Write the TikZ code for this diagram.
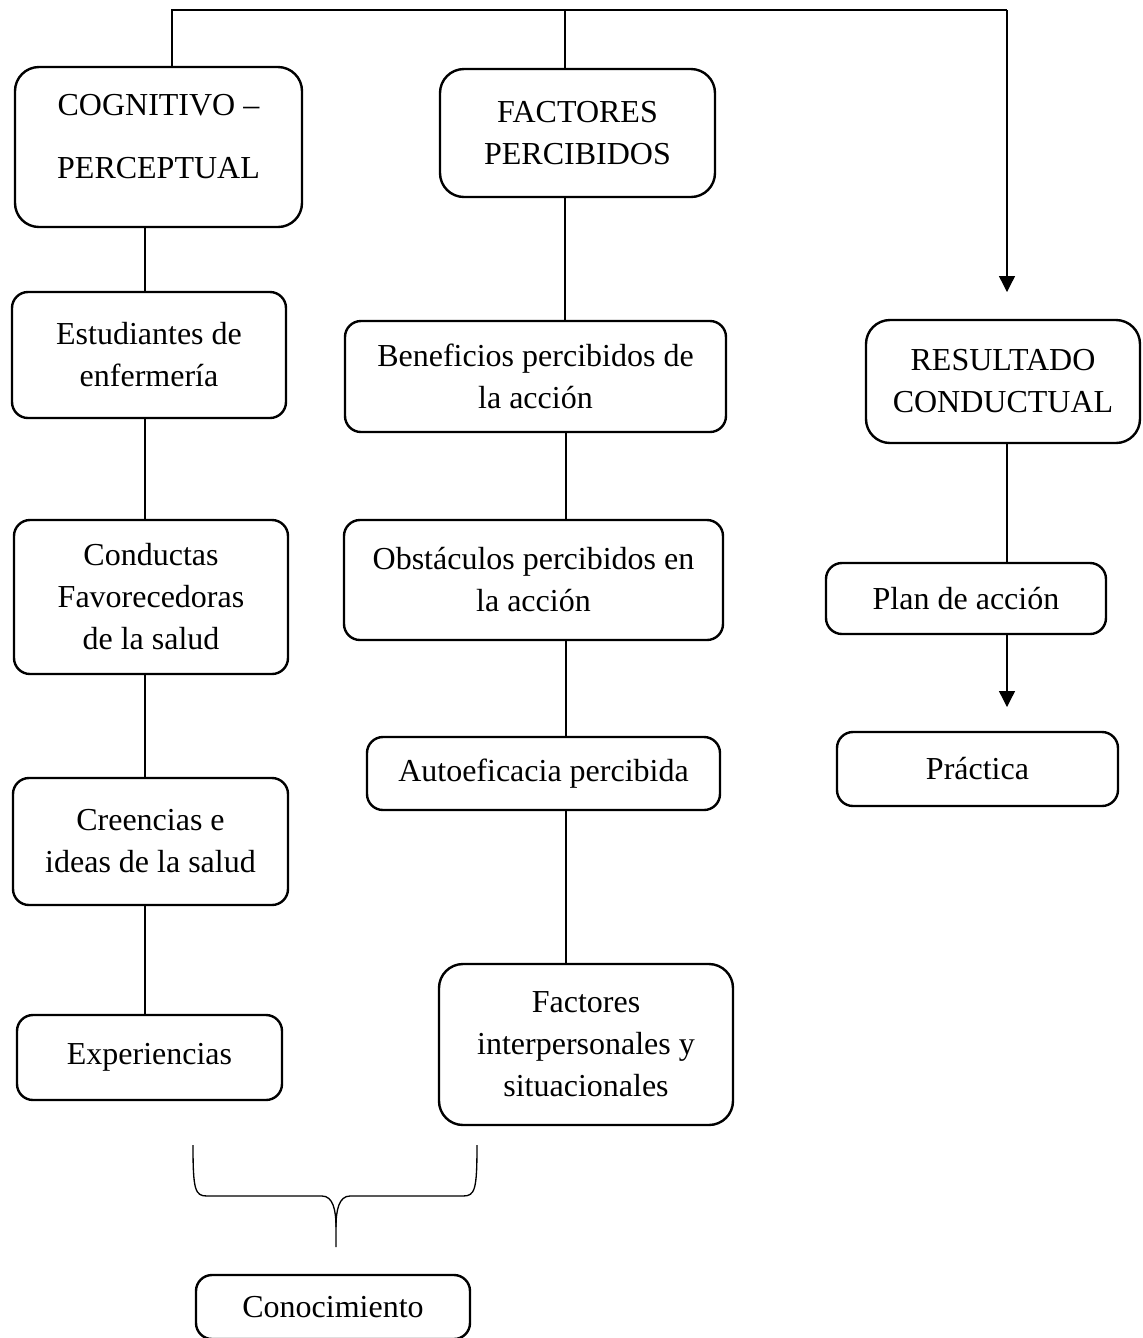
\documentclass[tikz,border=0pt]{standalone}
\usepackage{fontspec}
\setmainfont{Liberation Serif}
\usetikzlibrary{arrows.meta}

\tikzset{
	box/.style={draw, line width=0.9pt, rounded corners=6pt, inner sep=0pt, align=center,
		font=\fontsize{12pt}{15.75pt}\selectfont},
	bigbox/.style={box, rounded corners=9pt},
	wh/.style 2 args={minimum width=#1*0.375pt, minimum height=#2*0.375pt},
	conn/.style={line width=0.5pt},
	arr/.style={conn, -{Triangle[width=6pt,length=6pt]}}
}

\begin{document}
\begin{tikzpicture}[x=0.375pt, y=-0.375pt]
	\useasboundingbox (0,0) rectangle (1143,1338);

	\node[bigbox, wh={287}{160}] (cog) at (158.5,147) {COGNITIVO –\\[7.9pt]PERCEPTUAL\\[-8pt]\mbox{}};
	\node[box, wh={274}{126}] (est) at (149,355) {Estudiantes de\\enfermería};
	\node[box, wh={274}{154}] (cond) at (151,597) {Conductas\\Favorecedoras\\de la salud};
	\node[box, wh={275}{127}] (cre) at (150.5,841.5) {Creencias e\\ideas de la salud};
	\node[box, wh={265}{85}] (exp) at (149.5,1057.5) {Experiencias};

	\node[bigbox, wh={275}{128}] (fac) at (577.5,133) {FACTORES\\PERCIBIDOS};
	\node[box, wh={381}{111}] (ben) at (535.5,376.5) {Beneficios percibidos de\\la acción};
	\node[box, wh={379}{120}] (obs) at (533.5,580) {Obstáculos percibidos en\\la acción};
	\node[box, wh={353}{73}] (auto) at (543.5,773.5) {Autoeficacia percibida};
	\node[bigbox, wh={294}{161}] (fint) at (586,1044.5) {Factores\\interpersonales y\\situacionales};

	\node[bigbox, wh={274}{123}] (res) at (1003,381.5) {RESULTADO\\CONDUCTUAL};
	\node[box, wh={280}{71}] (plan) at (966,598.5) {Plan de acción};
	\node[box, wh={281}{74}] (prac) at (977.5,769) {Práctica};

	\node[box, wh={274}{64}] (con) at (333,1307) {Conocimiento};

	\coordinate (topL) at (172,10);
	\coordinate (topM) at (565,10);
	\coordinate (topR) at (1007,10);
	\coordinate (tipR) at (1007,292);
	\coordinate (tipP) at (1007,707);
	\coordinate (colA) at (145,0);
	\coordinate (colB) at (566,0);

	\draw[conn] (cog.north -| topL) -- (topL) -- (topR);
	\draw[conn] (topM) -- (fac.north -| topM);
	\draw[arr] (topR) -- (tipR);

	\draw[conn] (cog.south -| colA) -- (est.north -| colA);
	\draw[conn] (est.south -| colA) -- (cond.north -| colA);
	\draw[conn] (cond.south -| colA) -- (cre.north -| colA);
	\draw[conn] (cre.south -| colA) -- (exp.north -| colA);

	\draw[conn] (fac.south -| topM) -- (ben.north -| topM);
	\draw[conn] (ben.south -| colB) -- (obs.north -| colB);
	\draw[conn] (obs.south -| colB) -- (auto.north -| colB);
	\draw[conn] (auto.south -| colB) -- (fint.north -| colB);

	\draw[conn] (res.south -| tipR) -- (plan.north -| tipR);
	\draw[arr] (plan.south -| tipP) -- (tipP);

	\draw[conn] (193,1145) .. controls (193,1190) and (195,1196) .. (207,1196) -- (322,1196)
		.. controls (333,1196) and (336,1210) .. (336,1227) -- (336,1247);
	\draw[conn] (477,1145) .. controls (477,1190) and (475,1196) .. (463,1196) -- (350,1196)
		.. controls (339,1196) and (336,1210) .. (336,1227);

\end{tikzpicture}
\end{document}
